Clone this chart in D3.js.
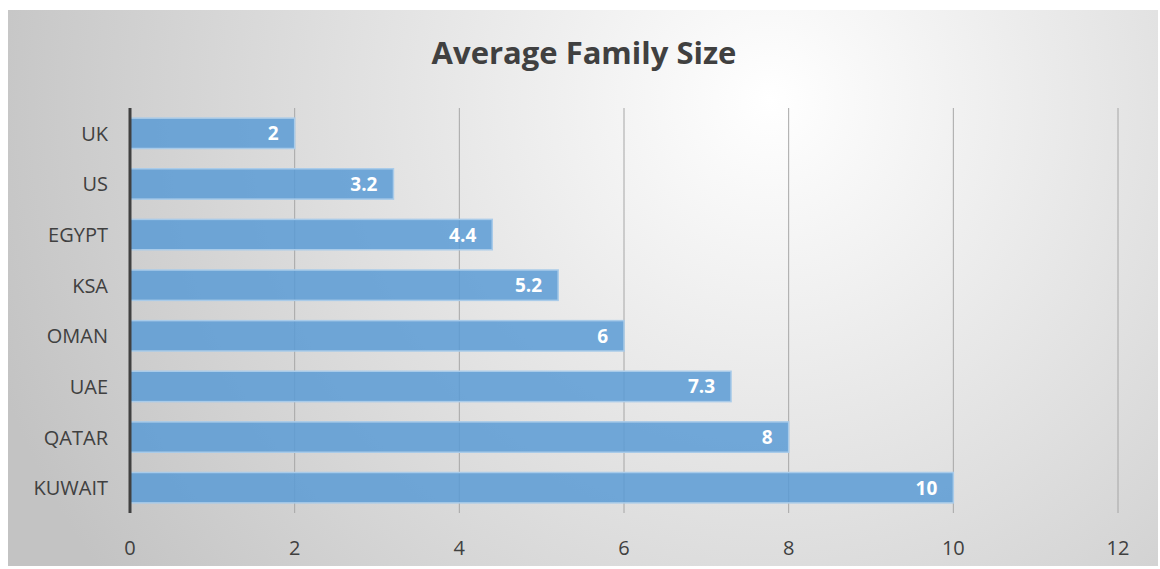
<!DOCTYPE html>
<html>
<head>
<meta charset="utf-8">
<script src="https://cdn.jsdelivr.net/npm/d3@7"></script>
<style>
  html, body { margin: 0; padding: 0; background: #fff; }
  svg { display: block; font-family: "Open Sans", "Noto Sans", sans-serif; }
</style>
</head>
<body>
<svg id="chart" width="1160" height="569"></svg>
<script>
// ── Datos ────────────────────────────────────────────────────────
const countries = ["UK", "US", "EGYPT", "KSA", "OMAN", "UAE", "QATAR", "KUWAIT"];
const familySize = [2, 3.2, 4.4, 5.2, 6, 7.3, 8, 10];
const xTicks = [0, 2, 4, 6, 8, 10, 12];

// ── Layout ───────────────────────────────────────────────────────
const box = { x: 8, y: 10, w: 1150, h: 556 };
const plot = { left: 130, right: 1118, top: 108, bottom: 513 };

const svg = d3.select("#chart");

const grad = svg.append("defs").append("radialGradient")
  .attr("id", "bg").attr("gradientUnits", "userSpaceOnUse")
  .attr("cx", 770).attr("cy", 100).attr("r", 820);
grad.append("stop").attr("offset", "0%").attr("stop-color", "#ffffff");
grad.append("stop").attr("offset", "100%").attr("stop-color", "#c3c3c3");

svg.append("rect")
  .attr("x", box.x).attr("y", box.y).attr("width", box.w).attr("height", box.h)
  .attr("fill", "url(#bg)");

// ── Escalas ──────────────────────────────────────────────────────
const x = d3.scaleLinear().domain([0, 12]).range([plot.left, plot.right]);
const y = d3.scaleBand().domain(countries).range([plot.top, plot.bottom])
  .paddingInner(0.4).paddingOuter(0.2);

// grid
svg.append("g").selectAll("line")
  .data(xTicks.slice(1))
  .join("line")
  .attr("x1", d => x(d)).attr("x2", d => x(d))
  .attr("y1", plot.top).attr("y2", plot.bottom)
  .attr("stroke", "#a6a6a6").attr("stroke-width", 1);

// bars
const data = countries.map((c, i) => ({ c, v: familySize[i] }));
svg.append("g").selectAll("rect")
  .data(data)
  .join("rect")
  .attr("x", x(0))
  .attr("y", d => y(d.c))
  .attr("width", d => x(d.v) - x(0))
  .attr("height", y.bandwidth())
  .attr("fill", "#5b9bd5").attr("fill-opacity", 0.85)
  .attr("stroke", "#a9cbe9").attr("stroke-width", 1.5);

// value labels
svg.append("g").selectAll("text")
  .data(data)
  .join("text")
  .attr("x", d => x(d.v) - 16)
  .attr("y", d => y(d.c) + y.bandwidth() / 2)
  .attr("text-anchor", "end").attr("dominant-baseline", "central")
  .attr("fill", "#ffffff").attr("font-size", 19).attr("font-weight", "bold")
  .text(d => d.v);

// y axis line
svg.append("line")
  .attr("x1", x(0)).attr("x2", x(0))
  .attr("y1", plot.top).attr("y2", plot.bottom)
  .attr("stroke", "#404040").attr("stroke-width", 3);

// category labels
svg.append("g").selectAll("text")
  .data(countries)
  .join("text")
  .attr("x", x(0) - 22)
  .attr("y", d => y(d) + y.bandwidth() / 2)
  .attr("text-anchor", "end").attr("dominant-baseline", "central")
  .attr("fill", "#404040").attr("font-size", 20)
  .text(d => d);

// x tick labels
svg.append("g").selectAll("text")
  .data(xTicks)
  .join("text")
  .attr("x", d => x(d))
  .attr("y", 547)
  .attr("text-anchor", "middle").attr("dominant-baseline", "central")
  .attr("fill", "#404040").attr("font-size", 20)
  .text(d => d);

// title
svg.append("text")
  .attr("x", 584).attr("y", 64)
  .attr("text-anchor", "middle")
  .attr("fill", "#404040").attr("font-size", 31).attr("font-weight", "bold")
  .text("Average Family Size");
</script>
</body>
</html>
